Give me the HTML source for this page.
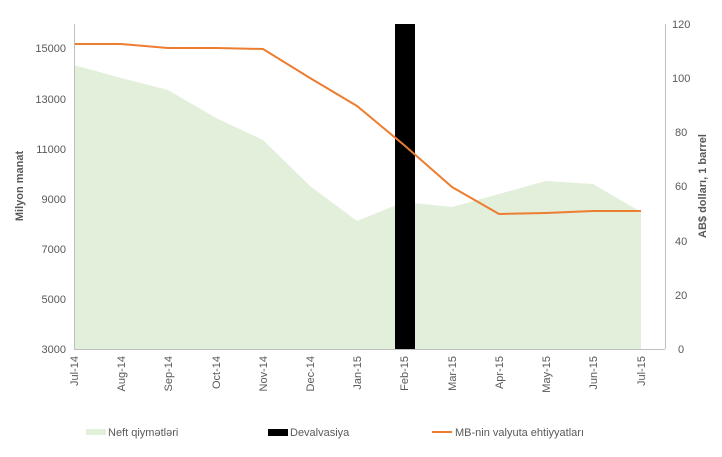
<!DOCTYPE html>
<html><head><meta charset="utf-8"><style>
body{margin:0;background:#fff}
svg{display:block;font-family:"Liberation Sans",sans-serif}
</style></head><body>
<svg width="722" height="457" viewBox="0 0 722 457">
<polygon fill="#e2efda" points="74,65 121,78 168,90 216,118 263,140 310,186 357,221 404,202 452,207 499,194 546,181 593,184 641,212 641,349 74,349"/>
<rect x="395" y="24" width="20" height="325" fill="#000"/>
<polyline fill="none" stroke="#ed7d31" stroke-width="2" points="74,44 121,44 168,48 216,48 263,49 310,78 357,106 404,145 452,187 499,214 546,213 593,211 641,211"/>
<g stroke="#bfbfbf" stroke-width="1">
<line x1="74.5" y1="24" x2="74.5" y2="349"/>
<line x1="665.5" y1="24" x2="665.5" y2="349"/>
<line x1="74" y1="349.5" x2="665" y2="349.5"/>
</g>
<g font-size="11" fill="#595959" text-anchor="end">
<text x="66" y="353">3000</text><text x="66" y="303">5000</text><text x="66" y="253">7000</text>
<text x="66" y="203">9000</text><text x="66" y="153">11000</text><text x="66" y="103">13000</text><text x="66" y="52">15000</text>
</g>
<g font-size="11" fill="#595959" text-anchor="start">
<text x="678" y="353">0</text><text x="675" y="299">20</text><text x="675" y="245">40</text><text x="675" y="190">60</text>
<text x="675" y="136">80</text><text x="672" y="82">100</text><text x="672" y="28">120</text>
</g>
<g font-size="11" fill="#595959" text-anchor="end">
<text transform="translate(78,356) rotate(-90)">Jul-14</text>
<text transform="translate(125,356) rotate(-90)">Aug-14</text>
<text transform="translate(172,356) rotate(-90)">Sep-14</text>
<text transform="translate(220,356) rotate(-90)">Oct-14</text>
<text transform="translate(267,356) rotate(-90)">Nov-14</text>
<text transform="translate(314,356) rotate(-90)">Dec-14</text>
<text transform="translate(361,356) rotate(-90)">Jan-15</text>
<text transform="translate(408,356) rotate(-90)">Feb-15</text>
<text transform="translate(456,356) rotate(-90)">Mar-15</text>
<text transform="translate(503,356) rotate(-90)">Apr-15</text>
<text transform="translate(550,356) rotate(-90)">May-15</text>
<text transform="translate(597,356) rotate(-90)">Jun-15</text>
<text transform="translate(645,356) rotate(-90)">Jul-15</text>
</g>
<text transform="translate(23,186) rotate(-90)" font-size="11" font-weight="bold" fill="#595959" text-anchor="middle">Milyon manat</text>
<text transform="translate(706,186) rotate(-90)" font-size="11" font-weight="bold" fill="#595959" text-anchor="middle">AB$ dolları, 1 barrel</text>
<rect x="86" y="429" width="20" height="6" fill="#e2efda"/>
<text x="108" y="436" font-size="11" fill="#595959">Neft qiymətləri</text>
<rect x="268" y="429" width="20" height="7" fill="#000"/>
<text x="290" y="436" font-size="11" fill="#595959">Devalvasiya</text>
<line x1="432" y1="432" x2="452" y2="432" stroke="#ed7d31" stroke-width="2"/>
<text x="455" y="436" font-size="11" fill="#595959">MB-nin valyuta ehtiyyatları</text>
</svg>
</body></html>
